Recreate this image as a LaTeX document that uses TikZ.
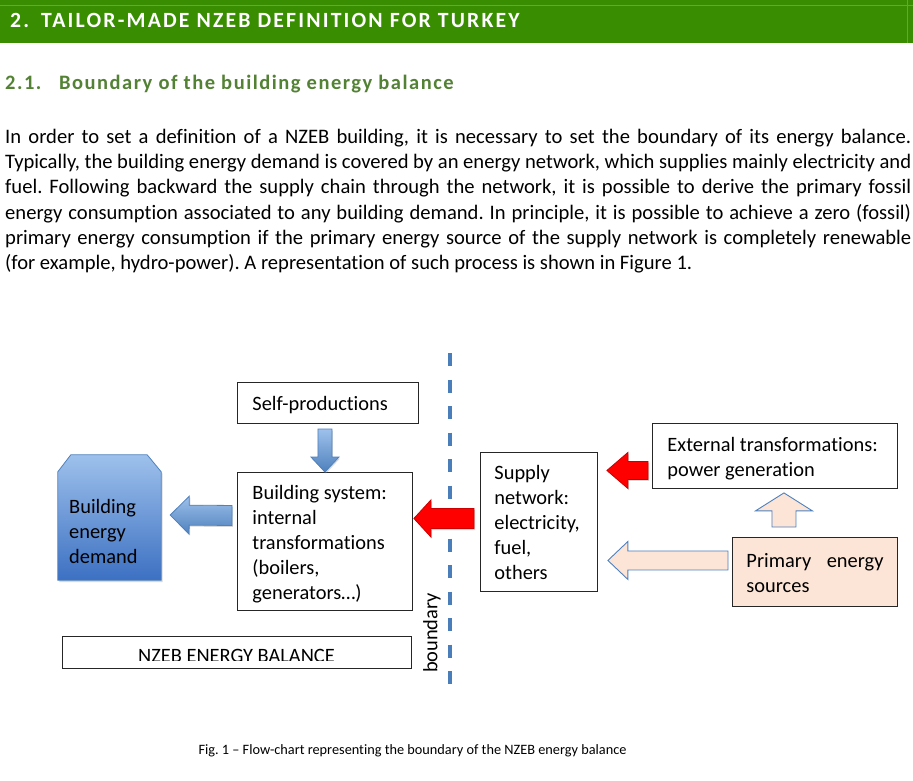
\documentclass[tikz,border=0pt]{standalone}
\usepackage{fontspec}
\setmainfont{Carlito}[Ligatures={TeX,NoCommon,NoContextual}, Contextuals=NoAlternate]
\newfontfamily\headfont[LetterSpace=10]{Carlito}
\newfontfamily\subheadfont[LetterSpace=7.3]{Carlito}
\usetikzlibrary{calc,shadows}

\definecolor{headgreen}{RGB}{56,142,0}
\definecolor{headline}{RGB}{96,170,44}
\definecolor{subgreen}{RGB}{84,130,53}
\definecolor{bndblue}{RGB}{74,126,187}
\definecolor{arrowblue}{RGB}{79,129,189}
\definecolor{lightblue}{RGB}{158,193,236}
\definecolor{darkblue}{RGB}{60,112,194}
\definecolor{peach}{RGB}{252,229,214}

% block arrow: [style]{tail}{tip}{shaft half width}{head half width}{head length}
\newcommand\blockarrow[6][]{%
  \coordinate (ba-neck) at ($(#3)!#6!(#2)$);
  \path[#1] ($(#2)!#4!90:(#3)$) -- ($(ba-neck)!#4!90:(#3)$) -- ($(ba-neck)!#5!90:(#3)$)
    -- (#3) -- ($(ba-neck)!#5!-90:(#3)$) -- ($(ba-neck)!#4!-90:(#3)$)
    -- ($(#2)!#4!-90:(#3)$) -- cycle;}
\newcommand\boxstrut{\rule[-4.5pt]{0pt}{25pt}}
\newcommand\parastrut{\rule{0pt}{16pt}}
\frenchspacing

\begin{document}
\begin{tikzpicture}[x=1pt, y=-1pt,
  every node/.style={font=\fontsize{20.4}{25}\selectfont},
  box/.style={draw=black!85, line width=0.9pt, fill=white, anchor=north west,
    inner xsep=15pt, inner ysep=0pt, align=flush left,
    execute at begin node=\boxstrut, execute at end node=\boxstrut},
  bluearrow/.style={draw=arrowblue, line width=0.8pt, top color=lightblue, bottom color=arrowblue,
    drop shadow={shadow xshift=1pt, shadow yshift=-1.5pt, opacity=0.3}},
  redarrow/.style={draw=red!80!black, line width=0.8pt, fill=red,
    drop shadow={shadow xshift=1pt, shadow yshift=-1.5pt, opacity=0.3}},
  peacharrow/.style={draw=arrowblue, line width=0.9pt, fill=peach},
  bndline/.style={bndblue, line width=3.5pt, dash pattern=on 13pt off 13.5pt}]

  \useasboundingbox[fill=white] (0,0) rectangle (913,780);

  % page heading
  \node[fill=headgreen, anchor=north west, minimum width=913pt, minimum height=43pt, inner sep=0] (headbar) at (0,0) {};
  \draw[headline, line width=0.8pt] (headbar.north west) ++(0,5) -- ++(913,0);
  \draw[headline, line width=0.8pt] (headbar.north east) ++(-6,0) -- ++(0,43);
  \node[anchor=base west, inner sep=0, text=white, font=\headfont\bfseries\fontsize{21.7}{26}\selectfont] (title) at (10,27)
    {2.\hspace{12pt}TAILOR-MADE NZEB DEFINITION FOR TURKEY};
  \node[anchor=base west, inner sep=0, text=subgreen, font=\subheadfont\bfseries\fontsize{20.5}{25}\selectfont] (subtitle) at (5,89)
    {\makebox[54pt][l]{2.1.}Boundary of the building energy balance};

  % body text
  \node[anchor=north west, inner sep=0, text width=906pt, align=justify,
    font={\fontsize{20.6}{25.3}\selectfont\tolerance=10000 \hyphenpenalty=10000\relax}] (para) at (5,127)
    {\parastrut In order to set a definition of a NZEB building, it is necessary to set the boundary of its energy balance.\linebreak
     Typically, the building energy demand is covered by an energy network, which supplies mainly electricity and\linebreak
     fuel. Following backward the supply chain through the network, it is possible to derive the primary fossil\linebreak
     energy consumption associated to any building demand. In principle, it is possible to achieve a zero (fossil)\linebreak
     primary energy consumption if the primary energy source of the supply network is completely renewable\linebreak
     (for example, hydro-power). A representation of such process is shown in Figure 1.};

  % boundary
  \coordinate (bndtop) at (450,353);
  \coordinate (bndbot) at (450,686);
  \draw[bndline] (bndtop) -- (bndbot);
  \node[rotate=90, inner sep=0] (bndlabel) at (432,633) {boundary};

  % boxes
  \node[box, minimum width=181pt, minimum height=41pt, text width=151pt] (self) at (237,382) {Self-productions};
  \node[box, minimum width=175pt, minimum height=138pt, text width=145pt] (sys) at (237,472)
    {Building system:\\internal\\transformations\\(boilers,\\generators…)};
  \node[box, inner xsep=14pt, minimum width=117pt, minimum height=139pt, text width=89pt] (supply) at (480,452)
    {Supply\\network:\\electricity,\\fuel,\\others};
  \node[box, minimum width=245pt, minimum height=65pt, text width=215pt] (ext) at (652,423)
    {External transformations:\\power generation};
  \node[box, fill=peach, inner xsep=14pt, align=justify, minimum width=165pt, minimum height=69pt, text width=137pt] (prim) at (732,537)
    {Primary energy\linebreak sources};

  % building energy demand
  \node[minimum width=103pt, minimum height=125pt, inner sep=0] (demand) at (109.5,517.5) {};
  \path[draw=arrowblue, line width=0.8pt, top color=lightblue, bottom color=darkblue,
    drop shadow={shadow xshift=1.5pt, shadow yshift=-2pt, opacity=0.3}]
    (demand.south west) -- ($(demand.north west)+(0,17)$) -- ($(demand.north west)+(13,0)$)
    -- ($(demand.north east)+(-14,0)$) -- ($(demand.north east)+(0,17)$) -- (demand.south east) -- cycle;
  \node[anchor=west, inner sep=0, align=flush left, execute at begin node=\boxstrut, execute at end node=\boxstrut] (demandtext) at (69,534)
    {Building\\energy\\demand};

  % NZEB balance
  \node[box, minimum width=349pt, minimum height=32pt] (balance) at (62,636) {};
  \begin{scope}
    \clip (balance.north west) rectangle ($(balance.south east)+(0,-8)$);
    \node[anchor=base, inner sep=0] (baltext) at (236.5,662) {NZEB ENERGY BALANCE};
  \end{scope}

  % arrows
  \coordinate (selfout) at ($(sys.north)+(0,-43)$);
  \blockarrow[bluearrow]{selfout}{sys.north}{7pt}{14pt}{15pt}
  \coordinate (sysout) at ($(sys.west)+(-5,-26)$);
  \coordinate (demandin) at ($(demand.east)+(9,-2.5)$);
  \blockarrow[bluearrow]{sysout}{demandin}{10pt}{19pt}{19pt}
  \coordinate (supplyout) at ($(supply.west)+(-6,-3.5)$);
  \coordinate (sysin) at ($(sys.east)+(1,-23)$);
  \blockarrow[redarrow]{supplyout}{sysin}{10pt}{18.5pt}{17pt}
  \coordinate (extout) at ($(ext.west)+(-4,14.5)$);
  \coordinate (supplyin) at ($(supply.east)+(9,-51.5)$);
  \blockarrow[redarrow]{extout}{supplyin}{9pt}{18pt}{21pt}
  \coordinate (primup) at ($(prim.north)+(-31,-10)$);
  \coordinate (extin) at ($(ext.south)+(9,4)$);
  \blockarrow[peacharrow]{primup}{extin}{12pt}{28.5pt}{18pt}
  \coordinate (primleft) at ($(prim.west)+(-4,-11.5)$);
  \coordinate (supplyin2) at ($(supply.east)+(10,38.5)$);
  \blockarrow[peacharrow]{primleft}{supplyin2}{9.5pt}{19pt}{20pt}

  % caption
  \node[anchor=base, inner sep=0, font=\fontsize{14.3}{17}\selectfont] (caption) at (412.5,754)
    {Fig. 1 – Flow-chart representing the boundary of the NZEB energy balance};
\end{tikzpicture}
\end{document}
